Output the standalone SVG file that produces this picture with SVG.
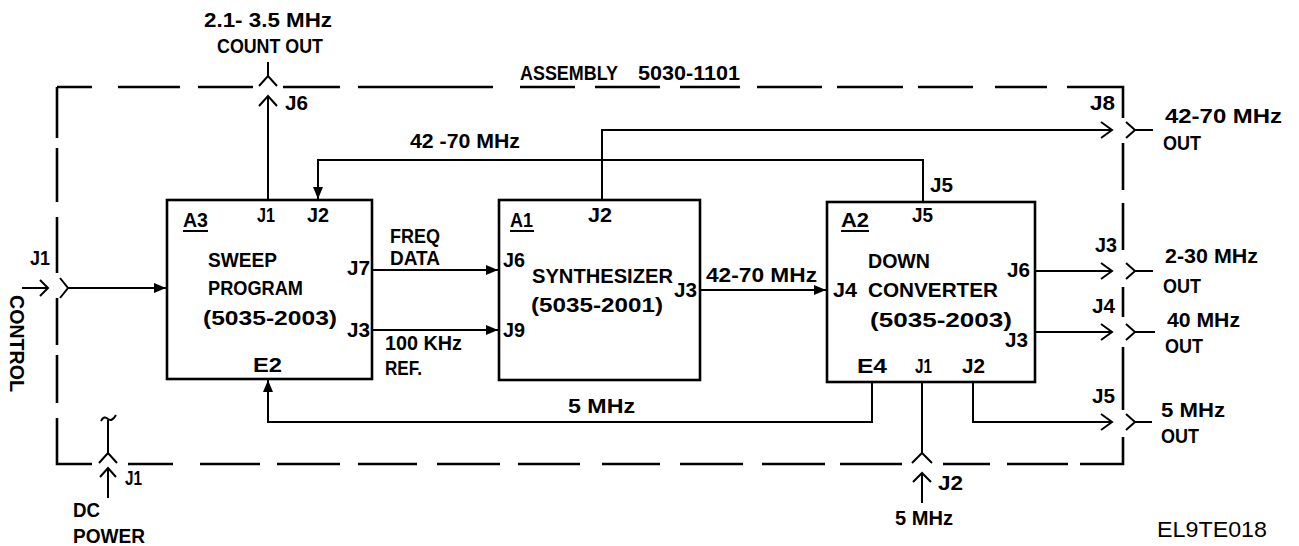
<svg xmlns="http://www.w3.org/2000/svg" width="1299" height="546" viewBox="0 0 1299 546">
<style>
.box{fill:none;stroke:#000;stroke-width:2.6}
.ln{fill:none;stroke:#000;stroke-width:2;stroke-linecap:butt;stroke-linejoin:miter}
.bd{fill:none;stroke:#000;stroke-width:2.6}
text{font-family:"Liberation Sans",Arial,sans-serif;font-weight:bold;font-size:20px;fill:#000}
</style>
<defs>
<marker id="fa" markerUnits="userSpaceOnUse" markerWidth="14" markerHeight="12" refX="12" refY="5" orient="auto">
<path d="M0,0 L12,5 L0,10 z" fill="#000"/>
</marker>
</defs>
<rect width="1299" height="546" fill="#fff"/>

<g id="assembly-boundary">
<path class="bd" d="M57,87 H92 M118,87 H180 M198,87 H253 M283,87 H340 M358,87 H493 M520,87 H575 M595,87 H660 M680,87 H740 M757,87 H822 M837,87 H903 M918,87 H973 M995,87 H1047 M1067,87 H1123 V118 M1123,143 V190 M1123,203 V250 M1123,287 V317 M1123,347 V410 M1123,437 V464 H1080 M1068,464 H1007 M990,464 H943 M902,464 H840 M825,464 H762 M743,464 H680 M660,464 H602 M580,464 H518 M500,464 H437 M417,464 H358 M340,464 H277 M260,464 H200 M173,464 H128 M92,464 H57 V418 M57,403 V355 M57,345 V298 M57,273 V217 M57,202 V148 M57,138 V87"/>
<text x="520" y="80" textLength="98" lengthAdjust="spacingAndGlyphs">ASSEMBLY</text>
<text x="638" y="80" textLength="102" lengthAdjust="spacingAndGlyphs">5030-1101</text>
</g>

<g id="A3">
<rect class="box" x="167" y="200" width="205" height="179"/>
<text x="183" y="227" textLength="25" lengthAdjust="spacingAndGlyphs">A3</text>
<line class="ln" x1="183" y1="231" x2="208" y2="231"/>
<text x="257" y="222" textLength="18" lengthAdjust="spacingAndGlyphs">J1</text>
<text x="307" y="222" textLength="22" lengthAdjust="spacingAndGlyphs">J2</text>
<text x="208" y="267" textLength="69" lengthAdjust="spacingAndGlyphs">SWEEP</text>
<text x="208" y="295" textLength="95" lengthAdjust="spacingAndGlyphs">PROGRAM</text>
<text x="203" y="325" textLength="134" lengthAdjust="spacingAndGlyphs">(5035-2003)</text>
<text x="347" y="275" textLength="23" lengthAdjust="spacingAndGlyphs">J7</text>
<text x="347" y="337" textLength="23" lengthAdjust="spacingAndGlyphs">J3</text>
<text x="253" y="372" textLength="29" lengthAdjust="spacingAndGlyphs">E2</text>
</g>

<g id="A1">
<rect class="box" x="499" y="200" width="201" height="180"/>
<text x="510" y="227" textLength="23" lengthAdjust="spacingAndGlyphs">A1</text>
<line class="ln" x1="510" y1="231" x2="534" y2="231"/>
<text x="588" y="222" textLength="24" lengthAdjust="spacingAndGlyphs">J2</text>
<text x="503" y="267" textLength="22" lengthAdjust="spacingAndGlyphs">J6</text>
<text x="532" y="283" textLength="141" lengthAdjust="spacingAndGlyphs">SYNTHESIZER</text>
<text x="531" y="312" textLength="132" lengthAdjust="spacingAndGlyphs">(5035-2001)</text>
<text x="674" y="297" textLength="23" lengthAdjust="spacingAndGlyphs">J3</text>
<text x="503" y="337" textLength="22" lengthAdjust="spacingAndGlyphs">J9</text>
</g>

<g id="A2">
<rect class="box" x="827" y="202" width="208" height="180"/>
<text x="841" y="227" textLength="28" lengthAdjust="spacingAndGlyphs">A2</text>
<line class="ln" x1="841" y1="231" x2="869" y2="231"/>
<text x="912" y="222" textLength="21" lengthAdjust="spacingAndGlyphs">J5</text>
<text x="868" y="268" textLength="62" lengthAdjust="spacingAndGlyphs">DOWN</text>
<text x="833" y="297" textLength="24" lengthAdjust="spacingAndGlyphs">J4</text>
<text x="868" y="297" textLength="130" lengthAdjust="spacingAndGlyphs">CONVERTER</text>
<text x="870" y="327" textLength="142" lengthAdjust="spacingAndGlyphs">(5035-2003)</text>
<text x="1007" y="277" textLength="23" lengthAdjust="spacingAndGlyphs">J6</text>
<text x="1005" y="347" textLength="23" lengthAdjust="spacingAndGlyphs">J3</text>
<text x="857" y="373" textLength="30" lengthAdjust="spacingAndGlyphs">E4</text>
<text x="915" y="373" textLength="17" lengthAdjust="spacingAndGlyphs">J1</text>
<text x="962" y="373" textLength="23" lengthAdjust="spacingAndGlyphs">J2</text>
</g>

<g id="connectors">
<path class="ln" d="M268,200 V96 M259,106 L268,96 L277,106"/>
<path class="ln" d="M268,62 V76 M259,86 L268,76 L277,86"/>
<path class="ln" d="M923,202 V160 H318 V199" marker-end="url(#fa)"/>
<path class="ln" d="M602,200 V130 H1112 M1101,122 L1112,130 L1101,138"/>
<path class="ln" d="M1126,122 L1135,130 L1126,138 M1135,130 H1153"/>
<path class="ln" d="M1035,271 H1112 M1101,263 L1112,271 L1101,279"/>
<path class="ln" d="M1126,263 L1135,271 L1126,279 M1135,271 H1153"/>
<path class="ln" d="M1035,332 H1112 M1101,324 L1112,332 L1101,340"/>
<path class="ln" d="M1126,324 L1135,332 L1126,340 M1135,332 H1155"/>
<path class="ln" d="M973,382 V422 H1112 M1101,414 L1112,422 L1101,430"/>
<path class="ln" d="M1126,414 L1135,422 L1126,430 M1135,422 H1152"/>
<path class="ln" d="M872,382 V422 H268 V380" marker-end="url(#fa)"/>
<path class="ln" d="M922,382 V453 M912,463 L922,453 L932,463"/>
<path class="ln" d="M922,503 V473 M913,482 L922,473 L931,482"/>
<path class="ln" d="M108,420 V453 M99,463 L108,453 L117,463"/>
<path class="ln" d="M101,421 Q104,415 108,419 Q112,422 116,415"/>
<path class="ln" d="M108,498 V468 M100,477 L108,468 L116,477"/>
<path class="ln" d="M22,288 H48 M40,280 L48,288 L40,296"/>
<path class="ln" d="M60,278 L68,288 L60,298"/>
<path class="ln" d="M68,288 H166" marker-end="url(#fa)"/>
<path class="ln" d="M372,270 H498" marker-end="url(#fa)"/>
<path class="ln" d="M372,330 H498" marker-end="url(#fa)"/>
<path class="ln" d="M700,290 H826" marker-end="url(#fa)"/>
</g>

<g id="labels">
<text x="204" y="27" textLength="128" lengthAdjust="spacingAndGlyphs">2.1- 3.5 MHz</text>
<text x="217" y="53" textLength="106" lengthAdjust="spacingAndGlyphs">COUNT OUT</text>
<text x="285" y="110" textLength="23" lengthAdjust="spacingAndGlyphs">J6</text>
<text x="410" y="148" textLength="110" lengthAdjust="spacingAndGlyphs">42 -70 MHz</text>
<text x="930" y="192" textLength="23" lengthAdjust="spacingAndGlyphs">J5</text>
<text x="1090" y="110" textLength="25" lengthAdjust="spacingAndGlyphs">J8</text>
<text x="1165" y="123" textLength="117" lengthAdjust="spacingAndGlyphs">42-70  MHz</text>
<text x="1163" y="150" textLength="38" lengthAdjust="spacingAndGlyphs">OUT</text>
<text x="1095" y="252" textLength="22" lengthAdjust="spacingAndGlyphs">J3</text>
<text x="1165" y="263" textLength="93" lengthAdjust="spacingAndGlyphs">2-30 MHz</text>
<text x="1163" y="293" textLength="38" lengthAdjust="spacingAndGlyphs">OUT</text>
<text x="1092" y="313" textLength="23" lengthAdjust="spacingAndGlyphs">J4</text>
<text x="1167" y="327" textLength="73" lengthAdjust="spacingAndGlyphs">40 MHz</text>
<text x="1165" y="353" textLength="38" lengthAdjust="spacingAndGlyphs">OUT</text>
<text x="1092" y="403" textLength="23" lengthAdjust="spacingAndGlyphs">J5</text>
<text x="1161" y="417" textLength="64" lengthAdjust="spacingAndGlyphs">5 MHz</text>
<text x="1161" y="443" textLength="38" lengthAdjust="spacingAndGlyphs">OUT</text>
<text x="30" y="265" textLength="20" lengthAdjust="spacingAndGlyphs">J1</text>
<text transform="translate(10,295) rotate(90)" x="0" y="0" textLength="97" lengthAdjust="spacingAndGlyphs">CONTROL</text>
<text x="390" y="243" textLength="50" lengthAdjust="spacingAndGlyphs">FREQ</text>
<text x="390" y="265" textLength="50" lengthAdjust="spacingAndGlyphs">DATA</text>
<text x="385" y="350" textLength="77" lengthAdjust="spacingAndGlyphs">100 KHz</text>
<text x="385" y="375" textLength="37" lengthAdjust="spacingAndGlyphs">REF.</text>
<text x="706" y="282" textLength="111" lengthAdjust="spacingAndGlyphs">42-70 MHz</text>
<text x="568" y="413" textLength="67" lengthAdjust="spacingAndGlyphs">5 MHz</text>
<text x="125" y="485" textLength="17" lengthAdjust="spacingAndGlyphs">J1</text>
<text x="73" y="517" textLength="27" lengthAdjust="spacingAndGlyphs">DC</text>
<text x="73" y="543" textLength="72" lengthAdjust="spacingAndGlyphs">POWER</text>
<text x="938" y="490" textLength="25" lengthAdjust="spacingAndGlyphs">J2</text>
<text x="895" y="525" textLength="58" lengthAdjust="spacingAndGlyphs">5 MHz</text>
<text x="1157" y="537" textLength="110" lengthAdjust="spacingAndGlyphs" style="font-weight:normal;font-size:22px">EL9TE018</text>
</g>
</svg>
